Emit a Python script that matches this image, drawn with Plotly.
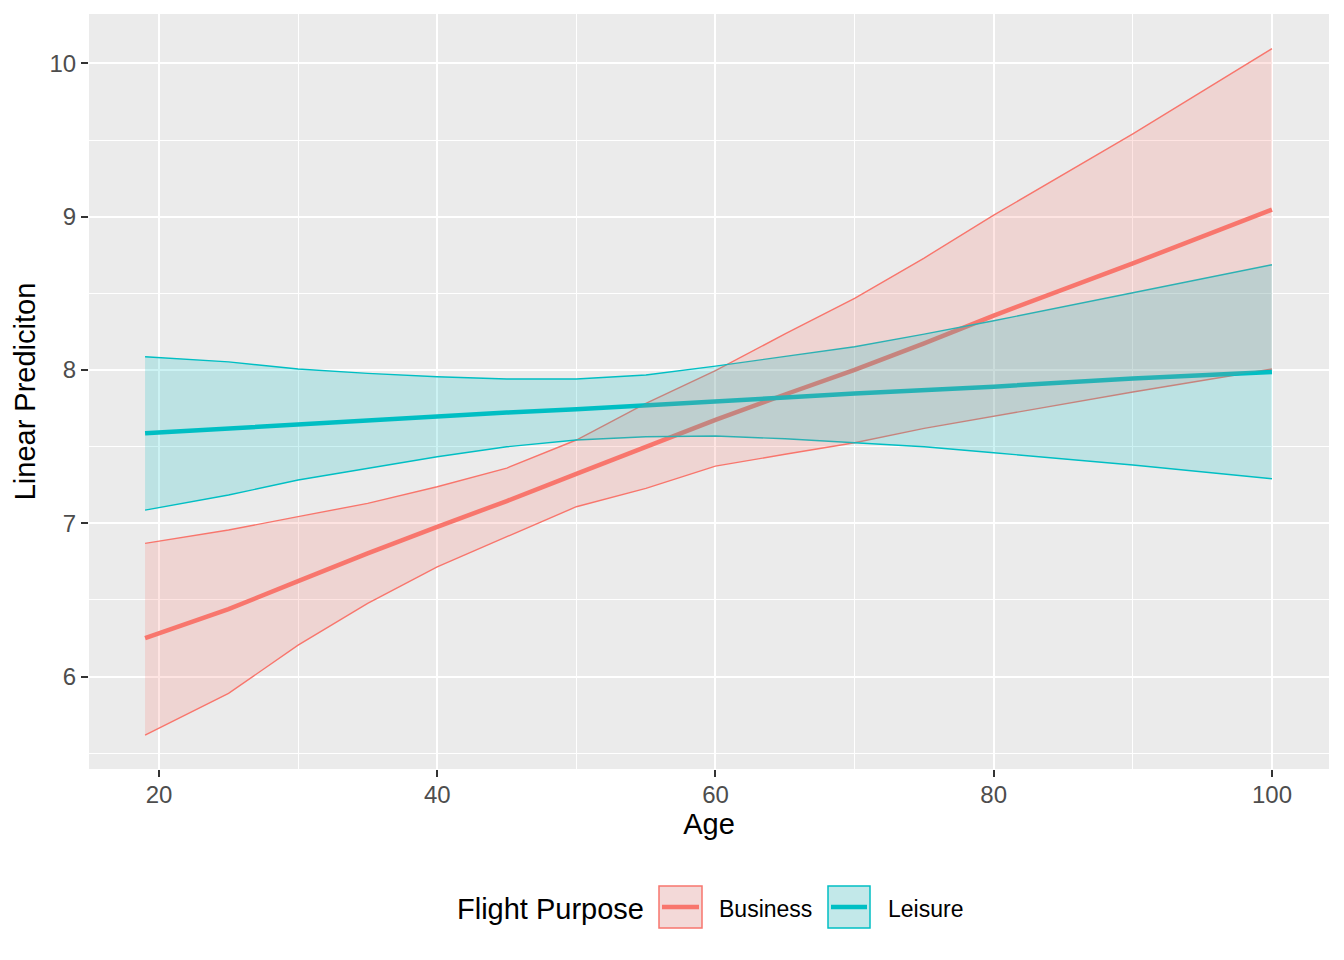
import plotly.graph_objects as go

# ---------------- data ----------------
ages = [19, 25, 30, 35, 40, 45, 50, 55, 60, 65, 70, 75, 80, 90, 100]

business_fit   = [6.25, 6.44, 6.622, 6.804, 6.977, 7.145, 7.322, 7.499, 7.675, 7.84, 8.00, 8.174, 8.355, 8.695, 9.046]
business_upper = [6.869, 6.956, 7.043, 7.13, 7.238, 7.36, 7.543, 7.782, 7.995, 8.235, 8.467, 8.73, 9.01, 9.54, 10.096]
business_lower = [5.618, 5.89, 6.205, 6.478, 6.716, 6.912, 7.108, 7.228, 7.373, 7.45, 7.525, 7.619, 7.699, 7.856, 8.006]

leisure_fit   = [7.587, 7.619, 7.647, 7.673, 7.699, 7.722, 7.743, 7.767, 7.793, 7.82, 7.847, 7.87, 7.891, 7.945, 7.986]
leisure_upper = [8.086, 8.053, 8.006, 7.978, 7.956, 7.941, 7.941, 7.967, 8.025, 8.086, 8.151, 8.234, 8.321, 8.504, 8.686]
leisure_lower = [7.086, 7.184, 7.282, 7.358, 7.434, 7.499, 7.543, 7.564, 7.569, 7.551, 7.525, 7.499, 7.46, 7.38, 7.29]

groups = ["Business", "Leisure"]
x_ticks = [20, 40, 60, 80, 100]
y_ticks = [6, 7, 8, 9, 10]

# ---------------- styling ----------------
OFF = 8  # page body margin of the html page
W, H = 1344 - OFF, 960 - OFF
L, R, T, B = 89 - OFF, 1329 - OFF, 14 - OFF, 769 - OFF  # panel pixel box (figure coords)
FONT = "Liberation Sans, Arial, sans-serif"
COLORS = {"Business": "#F8766D", "Leisure": "#00BFC4"}
FILLS = {"Business": "rgba(248,118,109,0.2)", "Leisure": "rgba(0,191,196,0.2)"}
KEYFILLS = {"Business": "rgb(243,217,216)", "Leisure": "rgb(194,232,233)"}

series = {
    "Business": (business_fit, business_upper, business_lower),
    "Leisure": (leisure_fit, leisure_upper, leisure_lower),
}

fig = go.Figure()

# lines first (ribbons are drawn on top, as in the reference)
for g in groups:
    fit, up, lo = series[g]
    for edge in (up, lo):
        fig.add_trace(go.Scatter(x=ages, y=edge, mode="lines",
                                 line=dict(color=COLORS[g], width=1.4),
                                 showlegend=False, hoverinfo="skip"))
    fig.add_trace(go.Scatter(x=ages, y=fit, mode="lines",
                             line=dict(color=COLORS[g], width=4.5),
                             showlegend=False, name=g))

for g in groups:
    fit, up, lo = series[g]
    fig.add_trace(go.Scatter(x=ages + ages[::-1], y=up + lo[::-1],
                             mode="lines", fill="toself",
                             fillcolor=FILLS[g], line=dict(width=0),
                             showlegend=False, hoverinfo="skip"))

def px(xp):
    return (xp - OFF - L) / (R - L)

def py(yp):
    return (B - (yp - OFF)) / (B - T)

axis_common = dict(
    showgrid=True, gridcolor="white", gridwidth=2.4,
    zeroline=False, showline=False,
    ticks="outside", ticklen=7, tickwidth=1.5, tickcolor="#333333",
    tickfont=dict(family=FONT, size=24, color="#4D4D4D"),
    automargin=False,
)

fig.update_layout(
    width=W, height=H,
    margin=dict(l=L, r=W - R, t=T, b=H - B),
    paper_bgcolor="white", plot_bgcolor="#EBEBEB",
    showlegend=False,
    xaxis=dict(range=[14.97, 104.1], tickvals=x_ticks, ticklabelstandoff=-3,
               minor=dict(tickvals=[30, 50, 70, 90], showgrid=True,
                          gridcolor="white", gridwidth=1.2, ticks=""),
               title=dict(text="Age", font=dict(family=FONT, size=29, color="black"),
                          standoff=6),
               **axis_common),
    yaxis=dict(range=[5.397, 10.322], tickvals=y_ticks,
               minor=dict(tickvals=[5.5, 6.5, 7.5, 8.5, 9.5], showgrid=True,
                          gridcolor="white", gridwidth=1.2, ticks=""),
               title=dict(text="Linear Prediciton", font=dict(family=FONT, size=29, color="black"),
                          standoff=5),
               **axis_common),
)

# ---------------- manual ggplot-style legend ----------------
fig.add_annotation(text="Flight Purpose", xref="paper", yref="paper",
                   x=px(455), y=py(909), xanchor="left", yanchor="middle",
                   showarrow=False, font=dict(family=FONT, size=29, color="black"))
key_boxes = {"Business": (659, 702, 717), "Leisure": (828, 870, 886)}
for g in groups:
    x0, x1, xt = key_boxes[g]
    fig.add_shape(type="rect", xref="paper", yref="paper",
                  x0=px(x0), x1=px(x1), y0=py(928), y1=py(886),
                  fillcolor=KEYFILLS[g], line=dict(color=COLORS[g], width=1.5))
    fig.add_shape(type="line", xref="paper", yref="paper",
                  x0=px(x0 + 3), x1=px(x1 - 3), y0=py(907), y1=py(907),
                  line=dict(color=COLORS[g], width=4.5))
    fig.add_annotation(text=g, xref="paper", yref="paper",
                       x=px(xt), y=py(909), xanchor="left", yanchor="middle",
                       showarrow=False, font=dict(family=FONT, size=23, color="black"))

fig.write_html("out.html")
